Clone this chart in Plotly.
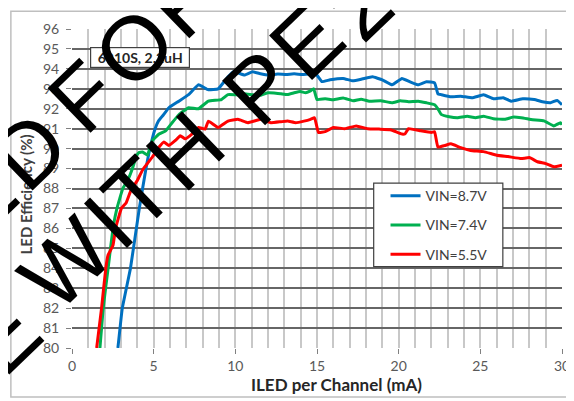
import math
import plotly.graph_objects as go

# ---------------- data ----------------
blue_x = [2.81, 3.08, 3.58, 4.12, 4.53, 4.77, 5.09, 5.3, 5.6, 5.93, 6.54, 7.14, 7.75, 8.35, 8.95,
          9.55, 9.86, 10.16, 10.56, 11.06, 11.47, 12.07, 12.6, 13.1, 13.6, 14.1, 14.6, 14.98,
          15.3, 15.8, 16.6, 17.2, 17.8, 18.4, 19.0, 19.6, 20.2, 20.7, 21.2, 21.7, 22.2, 22.4,
          22.6, 23.2, 23.8, 24.5, 25.2, 25.8, 26.4, 26.9, 27.6, 28.3, 28.8, 29.3, 29.7, 30.0]
blue_y = [80.0, 82.0, 84.0, 87.0, 89.0, 90.0, 91.0, 91.4, 91.7, 92.05, 92.38, 92.71, 93.2, 92.95, 93.0,
          93.6, 93.85, 93.8, 93.69, 93.85, 93.77, 93.69, 93.74, 93.72, 93.75, 93.72, 93.75, 93.7,
          93.36, 93.45, 93.52, 93.4, 93.5, 93.6, 93.45, 93.2, 93.52, 93.35, 93.2, 93.35, 93.3, 92.75,
          92.71, 92.6, 92.63, 92.55, 92.7, 92.5, 92.55, 92.38, 92.5, 92.46, 92.35, 92.3, 92.42, 92.2]

green_x = [1.71, 1.91, 2.21, 2.51, 2.75, 3.11, 3.42, 3.7, 3.92, 4.1, 4.32, 4.62, 4.92, 5.33, 5.73,
           6.13, 6.54, 7.14, 7.74, 8.35, 9.15, 9.55, 10.16, 10.56, 11.06, 11.56, 12.0, 12.37, 12.8,
           13.2, 13.6, 13.98, 14.3, 14.6, 14.8, 15.0, 15.5, 16.0, 16.6, 17.2, 17.7, 18.2, 18.9,
           19.6, 20.1, 20.6, 21.2, 21.7, 22.2, 22.4, 22.6, 23.1, 23.6, 24.2, 24.7, 25.2, 25.8,
           26.5, 27.0, 27.5, 28.2, 28.9, 29.5, 29.9, 30.0]
green_y = [80.0, 82.0, 84.0, 86.0, 87.0, 88.0, 88.43, 89.0, 89.58, 89.8, 89.83, 89.67, 90.4, 90.73, 90.89,
           91.3, 91.7, 92.05, 92.0, 92.38, 92.46, 92.71, 92.7, 92.75, 92.7, 92.68, 92.8, 92.79, 92.75,
           92.71, 92.8, 92.87, 92.8, 92.9, 93.0, 92.46, 92.5, 92.45, 92.54, 92.4, 92.48, 92.38, 92.4,
           92.3, 92.4, 92.35, 92.38, 92.3, 92.2, 92.0, 91.72, 91.6, 91.55, 91.62, 91.55, 91.63, 91.5,
           91.47, 91.58, 91.55, 91.45, 91.39, 91.14, 91.3, 91.2]

red_x = [1.51, 1.81, 2.07, 2.21, 2.51, 2.67, 3.02, 3.32, 3.62, 4.0, 4.32, 4.92, 5.33, 5.63, 5.93,
         6.33, 6.63, 6.93, 7.34, 7.74, 8.15, 8.35, 8.95, 9.55, 10.16, 10.76, 11.56, 12.17, 12.8,
         13.2, 13.7, 14.2, 14.6, 14.85, 15.09, 15.5, 16.0, 16.7, 17.4, 18.1, 18.8, 19.5, 20.2,
         20.4, 20.6, 21.3, 22.0, 22.2, 22.4, 22.8, 23.2, 23.8, 24.4, 25.2, 26.0, 26.7, 27.5,
         28.0, 28.5, 29.0, 29.5, 30.0]
red_y = [80.0, 82.0, 84.0, 84.66, 85.15, 86.0, 87.0, 87.29, 87.94, 88.4, 88.93, 89.58, 90.08, 90.33, 90.16,
         90.41, 90.65, 90.49, 90.73, 91.06, 90.98, 91.38, 91.06, 91.38, 91.47, 91.3, 91.47, 91.3, 91.35,
         91.38, 91.3, 91.38, 91.47, 91.55, 90.81, 90.85, 91.06, 91.0, 91.14, 91.0, 90.98, 90.95, 90.73,
         90.75, 91.0, 90.9, 90.81, 90.85, 90.08, 90.15, 90.24, 90.05, 89.91, 89.85, 89.67, 89.6, 89.5,
         89.55, 89.34, 89.25, 89.09, 89.17]

series_names = ["VIN=8.7V", "VIN=7.4V", "VIN=5.5V"]
series_colors = ["#0070C0", "#00B050", "#FF0000"]

x_ticks = [0, 5, 10, 15, 20, 25, 30]
y_ticks = list(range(80, 97))

note_text = "6910S, 2.2uH"
x_title = "ILED per Channel (mA)"
y_title = "LED Efficiency (%)"

# watermark letters: (char, position along line, offset across line)
wm_letters = [("E", -152, 126), ("D", -82, 126), ("F", -4, 124), ("O", 68, 124), ("R", 140, 124),
              ("E", -232, 244), ("W", -135, 234), ("I", -75, 234), ("T", -32, 234), ("H", 32, 236),
              ("P", 132, 242), ("E", 198, 242), ("2", 262, 252)]

# ---------------- layout geometry (screen px) ----------------
W, H = 574, 401
OFF = 8                       # page body margin
PX0, PX1, PY0, PY1 = 72, 569, 23, 348   # plot area on screen
L = PX0 - OFF
T = PY0 - OFF
R = W - L - (PX1 - PX0)
B = H - T - (PY1 - PY0)


def px(x):
    return (x - PX0) / (PX1 - PX0)


def py(y):
    return (PY1 - y) / (PY1 - PY0)


fig = go.Figure()
for xs, ys, name, col in zip([blue_x, green_x, red_x], [blue_y, green_y, red_y], series_names, series_colors):
    fig.add_trace(go.Scatter(x=xs, y=ys, mode="lines", name=name, legendgroup=name,
                             line=dict(color=col, width=3, shape="spline", smoothing=0.3)))

tick_font = dict(family="Lato", size=14, color="#595959")

fig.update_xaxes(range=[0, 30], tickvals=x_ticks, ticks="outside", ticklen=5, tickcolor="#808080",
                 tickfont=tick_font, showgrid=True, gridcolor="#c8c8c8", gridwidth=1.5,
                 minor=dict(dtick=1, showgrid=True, gridcolor="#c8c8c8", gridwidth=1.5),
                 zeroline=False, showline=False)
fig.update_yaxes(range=[80, 96], tickvals=y_ticks, ticks="outside", ticklen=5, tickcolor="#808080",
                 tickfont=tick_font, showgrid=True, gridcolor="#666666", gridwidth=1.5,
                 zeroline=False, showline=False, ticklabelstandoff=4)

shapes = [
    dict(type="rect", xref="paper", yref="paper", x0=px(10), x1=px(590), y0=py(398), y1=py(5),
         line=dict(color="#bfbfbf", width=1.5), fillcolor="rgba(0,0,0,0)", layer="below"),
    dict(type="rect", xref="paper", yref="paper", x0=px(378), x1=px(509), y0=py(265), y1=py(180),
         line=dict(color="#404040", width=1.2), fillcolor="white", layer="above"),
]

annotations = [
    dict(text=note_text, xref="paper", yref="paper", x=px(141), y=py(52), xanchor="center", yanchor="middle",
         showarrow=False, font=dict(family="Lato", size=14, color="#262626", weight="bold"),
         bordercolor="#404040", borderwidth=1.2, borderpad=1, bgcolor="white", width=96),
    dict(text=x_title, xref="paper", yref="paper", x=px(340), y=py(385), xanchor="center", yanchor="middle",
         showarrow=False, font=dict(family="Lato", size=17, color="#262626", weight="bold")),
    dict(text=y_title, xref="paper", yref="paper", x=px(25), y=py(192), xanchor="center", yanchor="middle",
         showarrow=False, textangle=-90, font=dict(family="Lato", size=15, color="#404040", weight="bold")),
]

ang = math.radians(44)
ux, uy = math.cos(ang), -math.sin(ang)
nx, ny = math.sin(ang), math.cos(ang)
wm_font = dict(family="Liberation Sans", size=90, color="black")
for ch, s, v in wm_letters:
    sx = s * ux + v * nx
    sy = s * uy + v * ny
    annotations.append(dict(text=ch, xref="paper", yref="paper", x=px(sx), y=py(sy),
                            xanchor="center", yanchor="middle", showarrow=False,
                            textangle=-44, font=wm_font))

fig.update_layout(
    width=W, height=H, margin=dict(l=L, r=R, t=T, b=B),
    paper_bgcolor="white", plot_bgcolor="white",
    shapes=shapes, annotations=annotations,
    showlegend=True,
    legend=dict(x=px(390), y=py(177), xanchor="left", yanchor="top", bgcolor="rgba(0,0,0,0)",
                borderwidth=0, font=dict(family="Lato", size=14, color="#404040"),
                tracegroupgap=8, traceorder="grouped"),
)

fig.write_html("out.html")
